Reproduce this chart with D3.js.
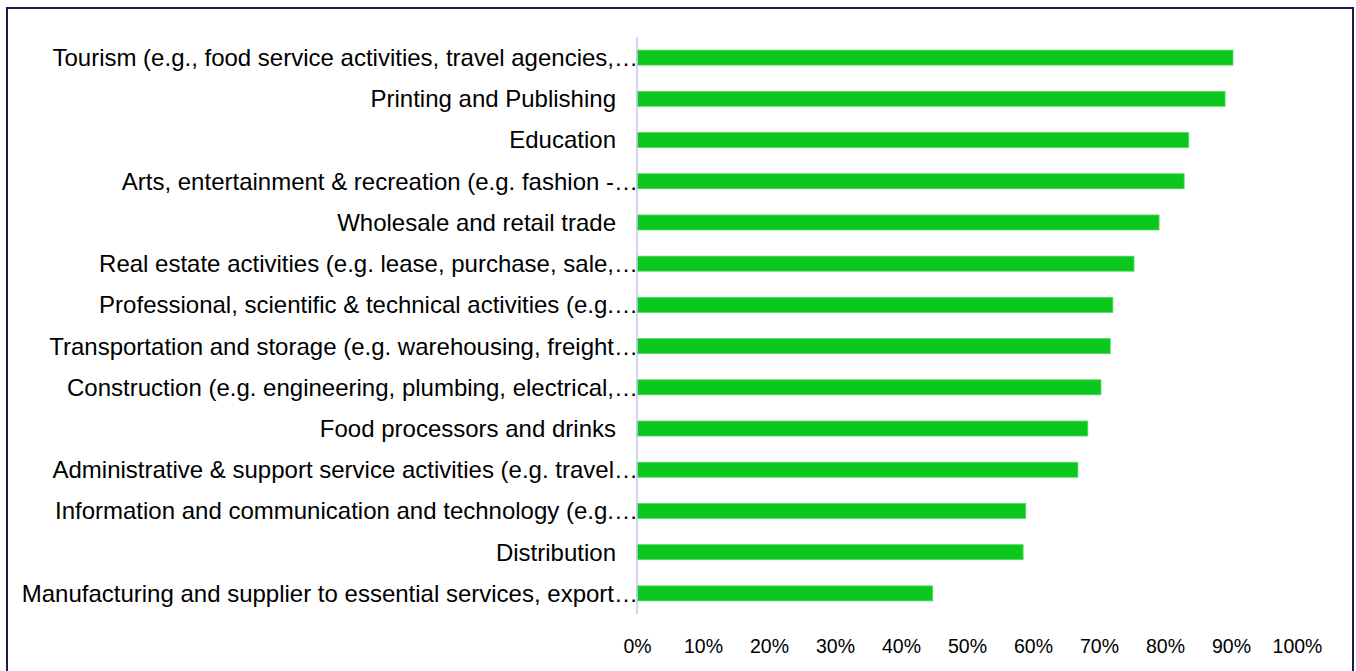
<!DOCTYPE html>
<html>
<head>
<meta charset="utf-8">
<script src="https://cdn.jsdelivr.net/npm/d3@7"></script>
<style>
  html, body { margin: 0; padding: 0; background: #ffffff; }
  svg { display: block; }
</style>
</head>
<body>
<svg id="chart" width="1356" height="671"></svg>
<script>
const categories = [
  "Tourism (e.g., food service activities, travel agencies,…",
  "Printing and Publishing",
  "Education",
  "Arts, entertainment & recreation (e.g. fashion -…",
  "Wholesale and retail trade",
  "Real estate activities (e.g. lease, purchase, sale,…",
  "Professional, scientific & technical activities (e.g.…",
  "Transportation and storage (e.g. warehousing, freight…",
  "Construction (e.g. engineering, plumbing, electrical,…",
  "Food processors and drinks",
  "Administrative & support service activities (e.g. travel…",
  "Information and communication and technology (e.g.…",
  "Distribution",
  "Manufacturing and supplier to essential services, export…"
];
const values = [0.903, 0.891, 0.836, 0.829, 0.791, 0.753, 0.721, 0.717, 0.703, 0.683, 0.668, 0.589, 0.585, 0.448];
const tickValues = [0, 0.1, 0.2, 0.3, 0.4, 0.5, 0.6, 0.7, 0.8, 0.9, 1.0];

const svg = d3.select("#chart");
const font = "'Liberation Sans', Arial, sans-serif";

// outer frame
svg.append("rect")
  .attr("x", 7).attr("y", 8)
  .attr("width", 1346).attr("height", 680)
  .attr("fill", "none")
  .attr("stroke", "#1b1b4b")
  .attr("stroke-width", 2);

const x = d3.scaleLinear().domain([0, 1]).range([637, 1297]);
const y = d3.scaleBand().domain(categories).range([37, 614]).paddingInner(0.636).paddingOuter(0.318);

// bars
svg.append("g").selectAll("rect")
  .data(categories)
  .join("rect")
  .attr("x", x(0))
  .attr("y", d => y(d))
  .attr("width", (d, i) => x(values[i]) - x(0))
  .attr("height", y.bandwidth())
  .attr("fill", "#0cc81e")
  .attr("stroke", "#55d860")
  .attr("stroke-width", 0.8);

// vertical axis line
svg.append("line")
  .attr("x1", x(0)).attr("x2", x(0))
  .attr("y1", 37).attr("y2", 614)
  .attr("stroke", "#c5c5f0")
  .attr("stroke-width", 1.5);

// category labels
svg.append("g").selectAll("text")
  .data(categories)
  .join("text")
  .attr("x", d => d.endsWith("…") ? x(0) + 1 : x(0) - 21)
  .attr("y", d => y(d) + y.bandwidth() / 2)
  .attr("dy", "0.35em")
  .attr("text-anchor", "end")
  .attr("font-family", font)
  .attr("font-size", 24)
  .attr("fill", "#000")
  .text(d => d);

// x axis labels
const xAxis = d3.axisBottom(x).tickValues(tickValues).tickFormat(d3.format(".0%")).tickSize(0).tickPadding(0);
const gx = svg.append("g").attr("transform", "translate(0,639)").call(xAxis);
gx.select(".domain").remove();
gx.selectAll("text")
  .attr("font-family", font)
  .attr("font-size", 19.5)
  .attr("fill", "#000");
</script>
</body>
</html>
